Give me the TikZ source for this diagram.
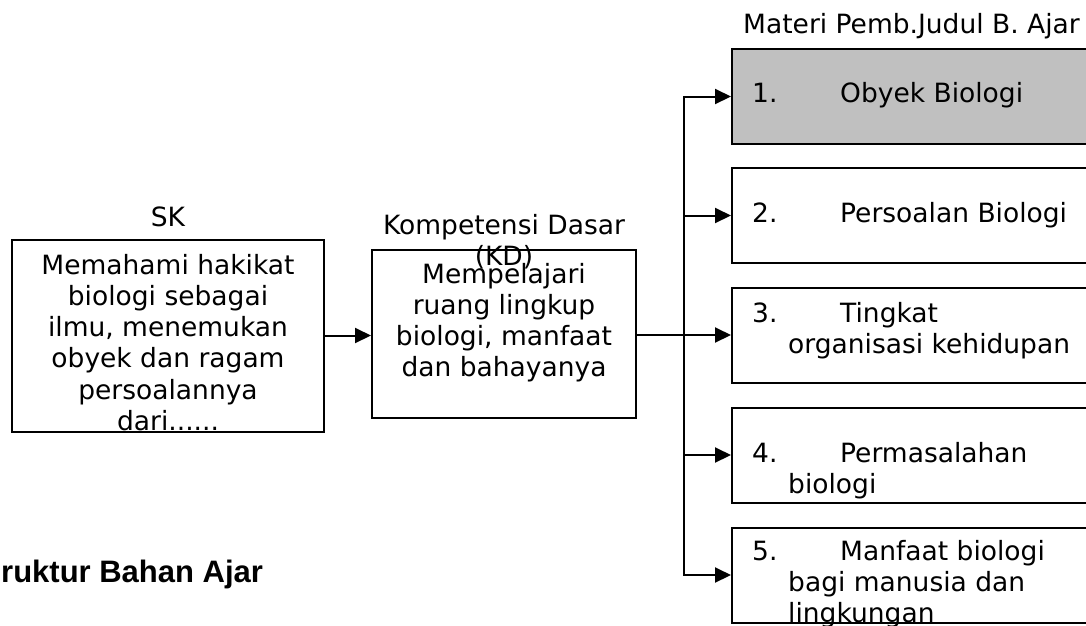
\documentclass[tikz,border=0pt]{standalone}
\usepackage{fontspec}
\setmainfont{DejaVu Sans}
\newfontfamily\arialfont{Liberation Sans}
\usetikzlibrary{arrows.meta}
\definecolor{boxgray}{HTML}{C0C0C0}
\begin{document}
\begin{tikzpicture}[x=1pt,y=-1pt,
  box/.style={draw, line width=2pt, inner sep=0pt, rectangle},
  rbox/.style={box, minimum width=360pt, minimum height=95pt},
  arr/.style={line width=2pt, -{Triangle[length=16pt,width=15pt]}},
  txt/.style={inner sep=0pt, font=\fontsize{26.5}{31.2}\selectfont},
  rtxt/.style={inner sep=0pt, align=left, anchor=north west, font=\fontsize{26.5}{31}\selectfont},
  ]
\useasboundingbox (0,0) rectangle (1086,625);
% left boxes
\node[box, minimum width=312pt, minimum height=192pt] (sk) at (168,335.5) {};
\node[box, minimum width=264pt, minimum height=168pt] (kd) at (504,334) {};
% right boxes
\node[rbox, fill=boxgray] (b1) at (912,96.5) {};
\node[rbox] (b2) at (912,215.5) {};
\node[rbox] (b3) at (912,335) {};
\node[rbox] (b4) at (912,455) {};
\node[rbox] (b5) at (912,575) {};
% labels and texts
\node[txt, anchor=base] (sklab) at (168,226) {SK};
\node[txt, align=center, anchor=north] (sktxt) at (168,254) {Memahami hakikat\\biologi sebagai\\ilmu, menemukan\\obyek dan ragam\\persoalannya\\dari......};
\node[txt, align=center, anchor=north] (kdlab) at (504,214) {Kompetensi Dasar\\(KD)};
\node[txt, align=center, anchor=north] (kdtxt) at (504,263) {Mempelajari\\ruang lingkup\\biologi, manfaat\\dan bahayanya};
\node[txt, anchor=base west] (title) at (743,33) {Materi Pemb.Judul B. Ajar};
\node[rtxt] (t1) at (752,82) {1.\hspace*{62.7pt}Obyek Biologi};
\node[rtxt] (t2) at (752,202) {2.\hspace*{62.7pt}Persoalan Biologi};
\node[rtxt] (t3) at (752,302) {3.\hspace*{62.7pt}Tingkat\\\hspace*{36pt}organisasi kehidupan};
\node[rtxt] (t4) at (752,442) {4.\hspace*{62.7pt}Permasalahan\\\hspace*{36pt}biologi};
\node[rtxt] (t5) at (752,540) {5.\hspace*{62.7pt}Manfaat biologi\\\hspace*{36pt}bagi manusia dan\\\hspace*{36pt}lingkungan};
\node[inner sep=0pt, anchor=base west, font=\arialfont\bfseries\fontsize{31}{36}\selectfont] (cap) at (1,582) {ruktur Bahan Ajar};
% connectors
\coordinate (tr) at (684,0);
\draw[arr] (sk.east) -- (sk.east -| kd.west);
\draw[arr] (kd.east |- b3.west) -- (b3.west);
\draw[arr] (tr |- b1.west) -- (tr |- b5.west) -- (b5.west);
\draw[arr, line cap=rect] (tr |- b1.west) -- (b1.west);
\draw[arr] (tr |- b2.west) -- (b2.west);
\draw[arr] (tr |- b4.west) -- (b4.west);
\end{tikzpicture}
\end{document}
